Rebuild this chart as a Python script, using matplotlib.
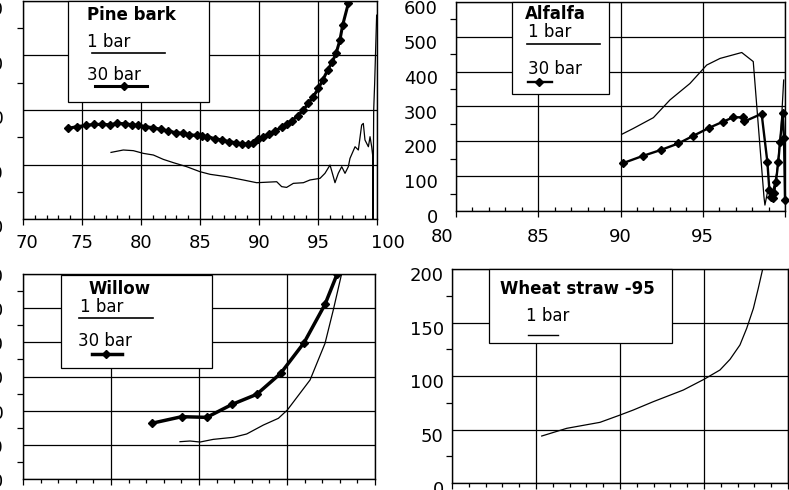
import matplotlib.pyplot as plt
import matplotlib.transforms as mtransforms
from matplotlib.patches import Rectangle
from matplotlib.lines import Line2D
from matplotlib.ticker import MultipleLocator

plt.switch_backend("Agg")
plt.rcParams["font.family"] = ["DejaVu Sans"]

# Pine bark (x 70-100)
pine_1bar_x = [77.46, 78.50, 79.35, 80.20, 81.05, 81.89, 82.74, 83.87, 85.00, 85.85,
               87.26, 88.67, 89.80, 91.50, 91.92, 92.34, 92.91, 93.76, 94.32, 95.17,
               95.59, 96.02, 96.30, 96.44, 96.72, 97.01, 97.29, 97.57, 97.71, 98.14,
               98.42, 98.70, 98.84, 98.98, 99.27, 99.41, 99.55, 99.63, 99.66, 99.72,
               99.80, 99.97]
pine_1bar_y = [61.1, 63.3, 62.7, 60.2, 58.7, 54.7, 51.7, 48.0, 43.4, 41.0,
               38.8, 35.8, 33.3, 34.2, 29.7, 29.0, 32.7, 33.3, 35.8, 37.3,
               41.9, 49.5, 38.8, 33.3, 41.9, 48.0, 41.9, 48.0, 55.6, 66.3,
               63.3, 86.2, 87.7, 72.5, 66.3, 75.5, 66.3, 58.7, 0.0, 100.0,
               124.0, 187.0]
pine_30bar_x = [73.84, 74.55, 75.34, 76.05, 76.67, 77.37, 77.99, 78.64, 79.21, 79.77,
                80.34, 81.05, 81.69, 82.32, 82.94, 83.53, 84.10, 84.72, 85.14, 85.62,
                86.27, 86.84, 87.49, 88.05, 88.59, 89.10, 89.52, 89.94, 90.37, 90.88,
                91.38, 91.92, 92.34, 92.77, 93.28, 93.76, 94.18, 94.60, 95.03, 95.40,
                95.82, 96.21, 96.53, 96.86, 97.09, 97.57, 97.80]
pine_30bar_y = [83.2, 84.7, 85.9, 86.8, 86.8, 86.5, 87.7, 87.4, 86.5, 85.9,
                84.7, 83.8, 82.2, 80.7, 79.2, 78.6, 77.3, 76.7, 76.1, 75.5,
                73.7, 72.5, 70.9, 70.0, 68.8, 68.8, 70.0, 73.1, 75.5, 78.0,
                81.0, 84.1, 87.1, 90.2, 94.5, 100.0, 106.1, 112.2, 119.8, 127.5,
                136.6, 144.3, 151.9, 164.2, 177.9, 197.8, 210.0]

# Alfalfa (x 80-100)
alfalfa_1bar_x = [90.07, 90.78, 92.00, 93.01, 94.22, 95.24, 96.05, 97.37, 98.07,
                  98.72, 98.78, 99.00, 99.20, 99.50, 99.75, 99.92]
alfalfa_1bar_y = [220, 237, 268, 319, 366, 419, 438, 455, 429,
                  41, 17, 70, 45, 110, 230, 376]
alfalfa_30bar_x = [90.13, 91.35, 92.44, 93.52, 94.43, 95.40, 96.21, 96.86, 97.47,
                   97.53, 98.58, 98.93, 99.05, 99.13, 99.25, 99.33, 99.45, 99.59,
                   99.70, 99.86, 99.94, 100.0]
alfalfa_30bar_y = [137, 158, 175, 194, 216, 239, 256, 269, 269,
                   257, 279, 140, 60, 41, 36, 53, 84, 140,
                   199, 280, 209, 32]

# Willow (x 80-100)
willow_1bar_x = [88.92, 89.49, 90.06, 90.81, 91.95, 92.71, 93.66, 94.51, 95.02,
                 96.31, 97.16, 97.63, 98.11]
willow_1bar_y = [54.6, 55.6, 54.1, 58.0, 61.0, 65.9, 79.0, 88.8, 101.0,
                 144.9, 198.5, 247.3, 301.0]
willow_30bar_x = [87.31, 89.02, 90.44, 91.89, 93.28, 94.64, 95.97, 97.16, 97.85]
willow_30bar_y = [81.5, 91.2, 90.2, 109.3, 123.9, 154.6, 199.5, 255.6, 300.0]

# Wheat straw -95 (x 80-100)
wheat_1bar_x = [85.34, 86.83, 88.81, 90.00, 90.79, 91.98, 93.77, 95.00, 95.95,
                96.55, 97.14, 97.54, 97.94, 98.23, 98.49]
wheat_1bar_y = [43.9, 51.1, 56.7, 63.5, 68.2, 76.0, 86.9, 96.9, 105.6,
                115.6, 129.0, 144.5, 163.2, 181.9, 199.7]

W, H = 789, 490
fig = plt.figure(figsize=(W / 100, H / 100), dpi=100)
fig.patch.set_facecolor("white")


def add_axes_px(left, top, right, bottom):
    return fig.add_axes([left / W, 1 - bottom / H, (right - left) / W, (bottom - top) / H])


def px_offset(dx, dy):
    return mtransforms.ScaledTranslation(dx / 100, -dy / 100, fig.dpi_scale_trans)


def style_axes(ax, xlim, ylim, xstep, ystep, xminor_dir="in", ypad=12, ylabel_dy=0,
               xpad=7):
    ax.set_xlim(*xlim)
    ax.set_ylim(*ylim)
    ax.xaxis.set_major_locator(MultipleLocator(xstep))
    ax.xaxis.set_minor_locator(MultipleLocator(xstep / 5))
    ax.yaxis.set_major_locator(MultipleLocator(ystep))
    ax.yaxis.set_minor_locator(MultipleLocator(ystep / 2))
    ax.grid(which="major", color="black", linewidth=0.9)
    ax.set_axisbelow(True)
    for spine in ax.spines.values():
        spine.set_color("black")
        spine.set_linewidth(1.0)
    ax.tick_params(axis="x", which="major", direction="out", length=4, width=0.9,
                   labelsize=13, pad=xpad)
    ax.tick_params(axis="x", which="minor", direction=xminor_dir, length=3, width=0.9)
    ax.tick_params(axis="y", which="major", length=0, labelsize=13, pad=ypad)
    ax.tick_params(axis="y", which="minor", direction="out", length=4, width=0.9)
    if ylabel_dy:
        for label in ax.get_yticklabels():
            label.set_transform(label.get_transform() + px_offset(0, ylabel_dy))


def shift_xlabels(ax, shifts):
    # nudge the end labels sideways, keyed by tick value
    locs = ax.xaxis.get_majorticklocs()
    ticks = ax.xaxis.get_major_ticks(len(locs))
    for loc, tick in zip(locs, ticks):
        for value, dx in shifts.items():
            if abs(loc - value) < 1e-6:
                tick.label1.set_transform(tick.label1.get_transform() + px_offset(dx, 0))


def draw_key(ax, box, title, title_xy, entries):
    x0, y0, x1, y1 = box
    ax.add_patch(Rectangle((x0, y0), x1 - x0, y1 - y0, transform=ax.transAxes,
                           facecolor="white", edgecolor="black", linewidth=0.9,
                           zorder=5, clip_on=False))
    ax.text(title_xy[0], title_xy[1], title, transform=ax.transAxes, fontsize=12,
            fontweight="bold", ha="left", va="center", zorder=6)
    for text, txy, lx0, lx1, ly, mx, lw in entries:
        ax.text(txy[0], txy[1], text, transform=ax.transAxes, fontsize=12,
                ha="left", va="center", zorder=6)
        ax.add_line(Line2D([lx0, lx1], [ly, ly], transform=ax.transAxes, color="black",
                           linewidth=lw, zorder=6, clip_on=False))
        if mx is not None:
            ax.add_line(Line2D([mx], [ly], transform=ax.transAxes, color="black",
                               marker="D", markersize=4, zorder=7, clip_on=False))


# Pine bark
ax1 = add_axes_px(23, 1, 377, 219)
ax1.plot(pine_1bar_x, pine_1bar_y, color="black", linewidth=0.9)
ax1.plot(pine_30bar_x, pine_30bar_y, color="black", linewidth=2.2, marker="D", markersize=4)
style_axes(ax1, (70, 100), (0, 200), 5, 50, xminor_dir="in", ypad=14, ylabel_dy=7)
shift_xlabels(ax1, {70: 4, 100: 11})
draw_key(ax1, (0.127, 0.537, 0.525, 1.0), "Pine bark", (0.181, 0.936),
         [("1 bar", (0.181, 0.812), 0.195, 0.401, 0.761, None, 1.2),
          ("30 bar", (0.181, 0.661), 0.203, 0.350, 0.610, 0.285, 2.2)])

# Alfalfa
ax2 = add_axes_px(456, 2, 785, 211)
ax2.plot(alfalfa_1bar_x, alfalfa_1bar_y, color="black", linewidth=0.9)
ax2.plot(alfalfa_30bar_x, alfalfa_30bar_y, color="black", linewidth=1.7, marker="D",
         markersize=4, clip_on=False)
style_axes(ax2, (80, 100), (0, 600), 5, 100, xminor_dir="in", ypad=13, ylabel_dy=5,
           xpad=8)
shift_xlabels(ax2, {80: -14, 100: 20})
draw_key(ax2, (0.170, 0.560, 0.465, 1.0), "Alfalfa", (0.210, 0.943),
         [("1 bar", (0.219, 0.856), 0.216, 0.438, 0.799, None, 1.2),
          ("30 bar", (0.219, 0.679), 0.219, 0.292, 0.617, 0.252, 1.7)])

# Willow
ax3 = add_axes_px(23, 274, 375, 479)
ax3.plot(willow_1bar_x, willow_1bar_y, color="black", linewidth=0.9)
ax3.plot(willow_30bar_x, willow_30bar_y, color="black", linewidth=2.5, marker="D",
         markersize=4)
style_axes(ax3, (80, 100), (0, 300), 5, 50, xminor_dir="out", ypad=14, ylabel_dy=1)
draw_key(ax3, (0.108, 0.541, 0.537, 0.995), "Willow", (0.185, 0.927),
         [("1 bar", (0.162, 0.839), 0.159, 0.369, 0.785, None, 1.2),
          ("30 bar", (0.156, 0.673), 0.196, 0.281, 0.610, 0.236, 2.5)])

# Wheat straw -95
ax4 = add_axes_px(452, 269, 788, 483)
ax4.plot(wheat_1bar_x, wheat_1bar_y, color="black", linewidth=0.9)
style_axes(ax4, (80, 100), (0, 200), 5, 50, xminor_dir="out", ypad=6, ylabel_dy=5)
draw_key(ax4, (0.110, 0.654, 0.655, 1.0), "Wheat straw -95", (0.143, 0.907),
         [("1 bar", (0.220, 0.780), 0.226, 0.315, 0.692, None, 1.0)])

fig.savefig("out.png", dpi=100, facecolor="white")
